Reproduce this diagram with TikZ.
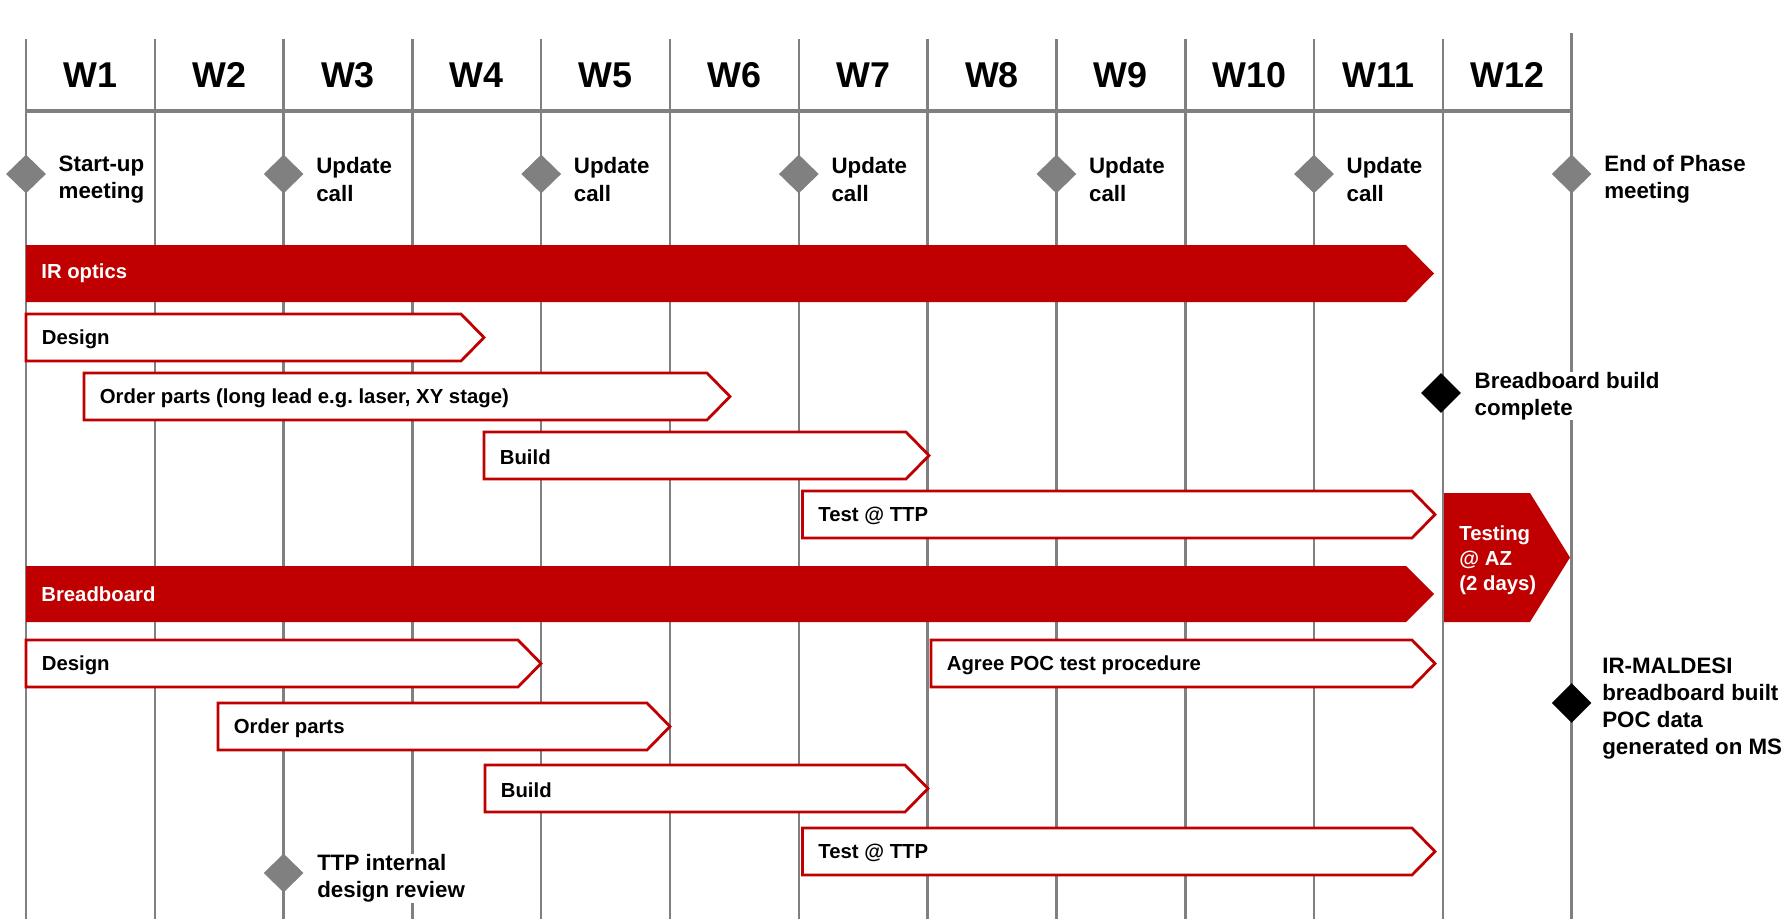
\documentclass[tikz,border=0pt]{standalone}
\usepackage{fontspec}
\setmainfont{Liberation Sans}
\usepackage{xcolor}
\usepackage{tikz}
\usetikzlibrary{positioning}
\usetikzlibrary{shapes.geometric}
\definecolor{ttpred}{RGB}{192,0,0}
\definecolor{gridgray}{RGB}{128,128,128}

\begin{document}
\begin{tikzpicture}[
    gridline/.style={gridgray,line width=1.47pt},
    weeklbl/.style={font=\fontsize{20.4}{24}\selectfont\bfseries,inner sep=0pt},
    msmark/.style={diamond,fill=gridgray,inner sep=0pt,minimum width=0.8cm,minimum height=0.78cm},
    msdone/.style={diamond,fill=black,inner sep=0pt,minimum width=0.8cm,minimum height=0.8cm},
    mslbl/.style={font=\fontsize{12.7}{15.5}\selectfont\bfseries,align=left,inner sep=0pt,
      fill=white,yshift=-0.11cm},
    taskbox/.style={draw=ttpred,fill=white,line width=1.59pt},
    tasklbl/.style={font=\fontsize{11.57}{14.2}\selectfont\bfseries,anchor=west,inner sep=0pt},
    phaselbl/.style={tasklbl,text=white,align=left}]
    \useasboundingbox (0,0) rectangle (35.62,-18.38);
    % week grid
    \foreach \i in {0,...,11}
      \draw[gridline] (0.52+2.576*\i,-0.78) -- (0.52+2.576*\i,-18.38);
    \draw[gridline] (31.432,-0.66) -- (31.432,-18.38);
    \draw[gridgray,line width=2.27pt] (0.52,-2.22) -- (31.432,-2.22);
    \foreach \i in {1,...,12}
      \node[weeklbl] (w\i) at (0.52+2.576*\i-1.288,-1.5) {W\i};
    % meetings and calls
    \foreach \i/\txt in {0/{Start-up\\meeting},2/{Update\\call},4/{Update\\call},
        6/{Update\\call},8/{Update\\call},10/{Update\\call},12/{End of Phase\\meeting}}{
      \node[msmark] (ms\i) at (0.52+2.576*\i,-3.48) {};
      \node[mslbl,right=0.24cm of ms\i] (mst\i) {\txt};}
    % phase bars
    \fill[ttpred] (0.52,-4.90) -- (28.12,-4.90) -- (28.68,-5.47) -- (28.12,-6.04)
      -- (0.52,-6.04) -- cycle;
    \node[phaselbl] (optics) at (0.82,-5.47) {IR optics};
    \fill[ttpred] (0.52,-11.32) -- (28.12,-11.32) -- (28.68,-11.88) -- (28.12,-12.44)
      -- (0.52,-12.44) -- cycle;
    \node[phaselbl] (bboard) at (0.82,-11.88) {Breadboard};
    \fill[ttpred] (28.88,-9.86) -- (30.60,-9.86) -- (31.40,-11.15) -- (30.60,-12.44)
      -- (28.88,-12.44) -- cycle;
    \node[phaselbl] (aztest) at (29.18,-11.2) {Testing\\@ AZ\\(2 days)};
    % tasks
    \foreach \nm/\xa/\xb/\yt/\txt in {
        optdes/0.52/9.68/-6.28/Design,
        optord/1.68/14.60/-7.46/{Order parts (long lead e.g.\ laser, XY stage)},
        optbld/9.68/18.58/-8.64/Build,
        opttst/16.05/28.70/-9.82/Test @ TTP,
        bbdes/0.52/10.82/-12.80/Design,
        bbpoc/18.62/28.70/-12.80/Agree POC test procedure,
        bbord/4.36/13.40/-14.06/Order parts,
        bbbld/9.70/18.56/-15.30/Build,
        bbtst/16.05/28.70/-16.56/Test @ TTP}{
      \draw[taskbox] (\xa,\yt) -- (\xb-0.46,\yt) -- (\xb,\yt-0.47) -- (\xb-0.46,\yt-0.94)
        -- (\xa,\yt-0.94) -- cycle;
      \node[tasklbl] (\nm) at (\xa+0.31,\yt-0.5) {\txt};}
    % milestones
    \node[msmark] (ttprev) at (5.672,-17.46) {};
    \node[mslbl,right=0.26cm of ttprev] (ttprevlbl) {TTP internal\\design review};
    \node[msdone] (bbdone) at (28.82,-7.86) {};
    \node[mslbl,right=0.26cm of bbdone,yshift=0.05cm] (bbdonelbl) {Breadboard build\\complete};
    \node[msdone] (pocdone) at (31.432,-14.06) {};
    \node[mslbl,right=0.2cm of pocdone] (pocdonelbl)
      {IR-MALDESI\\breadboard built\\POC data\\generated on MS};
  \end{tikzpicture}
\end{document}
